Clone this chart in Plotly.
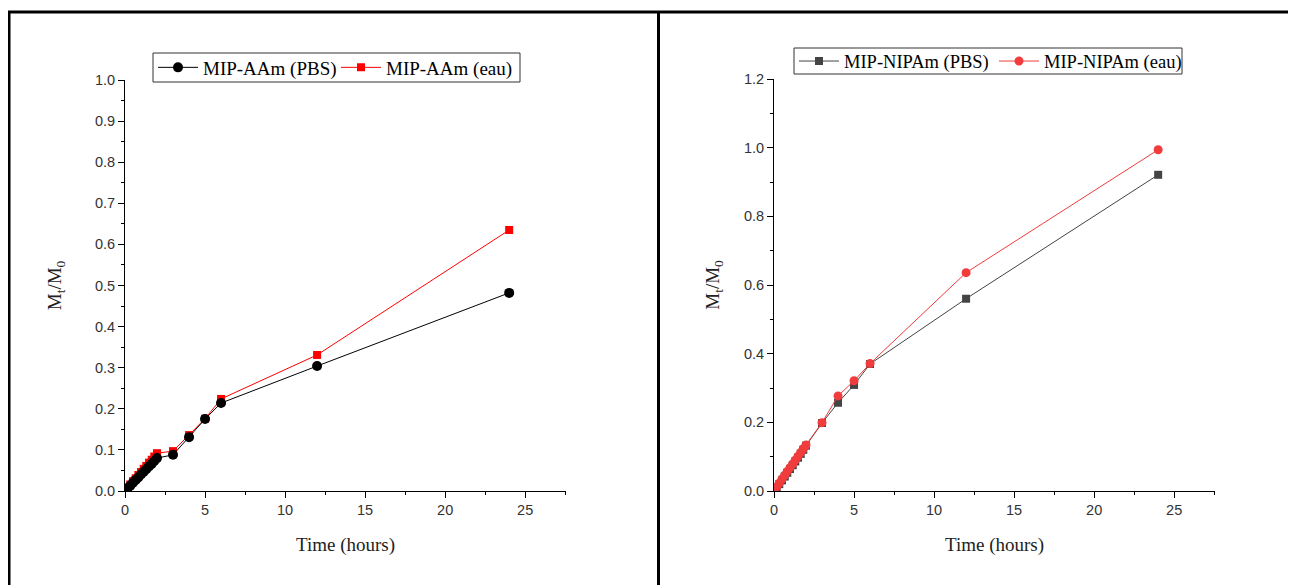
import plotly.graph_objects as go

# page body has an 8px margin: figure occupies screen 8..1296 x 8..585
OFF = 8
W, H = 1296 - OFF, 585 - OFF


def px(x):  # screen x -> paper fraction
    return (x - OFF) / W


def py(y):  # screen y -> paper fraction
    return (H - (y - OFF)) / H


# ---- data ----
time_h = [0.17, 0.33, 0.5, 0.67, 0.83, 1.0, 1.17, 1.33, 1.5, 1.67, 1.83, 2.0, 3, 4, 5, 6, 12, 24]

aam_pbs = [0.007, 0.013, 0.020, 0.027, 0.033, 0.040, 0.047, 0.053, 0.060, 0.066, 0.073, 0.080,
           0.088, 0.131, 0.175, 0.214, 0.304, 0.482]
aam_eau = [0.008, 0.016, 0.024, 0.031, 0.039, 0.046, 0.054, 0.061, 0.069, 0.076, 0.084, 0.092,
           0.097, 0.136, 0.176, 0.224, 0.331, 0.635]

nipam_pbs = [0.010, 0.020, 0.031, 0.042, 0.053, 0.064, 0.075, 0.086, 0.097, 0.108, 0.120, 0.132,
             0.198, 0.257, 0.309, 0.370, 0.560, 0.921]
nipam_eau = [0.012, 0.023, 0.035, 0.046, 0.057, 0.068, 0.079, 0.090, 0.101, 0.112, 0.123, 0.134,
             0.199, 0.277, 0.321, 0.371, 0.636, 0.994]

x_ticks = [0, 5, 10, 15, 20, 25]

fig = go.Figure()

# left panel: water series drawn first so the PBS markers sit on top
fig.add_trace(go.Scatter(x=time_h, y=aam_eau, name="MIP-AAm (eau)", mode="lines+markers",
                         line=dict(color="#ff0000", width=1),
                         marker=dict(symbol="square", size=8, color="#ff0000"),
                         xaxis="x", yaxis="y", legend="legend", legendrank=2))
fig.add_trace(go.Scatter(x=time_h, y=aam_pbs, name="MIP-AAm (PBS)", mode="lines+markers",
                         line=dict(color="black", width=1),
                         marker=dict(symbol="circle", size=10, color="black"),
                         xaxis="x", yaxis="y", legend="legend", legendrank=1))
fig.add_trace(go.Scatter(x=time_h, y=nipam_pbs, name="MIP-NIPAm (PBS)", mode="lines+markers",
                         line=dict(color="#444444", width=1),
                         marker=dict(symbol="square", size=8, color="#444444"),
                         xaxis="x2", yaxis="y2", legend="legend2", legendrank=1))
fig.add_trace(go.Scatter(x=time_h, y=nipam_eau, name="MIP-NIPAm (eau)", mode="lines+markers",
                         line=dict(color="#f03c3c", width=1),
                         marker=dict(symbol="circle", size=9, color="#f03c3c"),
                         xaxis="x2", yaxis="y2", legend="legend2", legendrank=2))

tickfont = dict(family="Liberation Sans, Arial", size=14.5, color="#333333")
titlefont = dict(family="Liberation Serif, Times New Roman", size=19, color="#222222")


def xaxis(domain, anchor):
    return dict(domain=domain, anchor=anchor, range=[0, 27.55], tickvals=x_ticks,
                automargin=False,
                showline=True, linecolor="black", linewidth=1, ticks="outside", ticklen=6,
                tickcolor="black", showgrid=False, zeroline=False, tickfont=tickfont,
                minor=dict(ticks="outside", ticklen=3, dtick=2.5, tickcolor="black", showgrid=False),
                title=dict(text="Time (hours)", font=titlefont, standoff=20))


def yaxis(domain, anchor, rng, dtick, mdtick, standoff):
    return dict(domain=domain, anchor=anchor, range=rng, dtick=dtick, tickformat=".1f",
                automargin=False,
                showline=True, linecolor="black", linewidth=1, ticks="outside", ticklen=6,
                tickcolor="black", showgrid=False, zeroline=False, tickfont=tickfont,
                minor=dict(ticks="outside", ticklen=3, dtick=mdtick, tickcolor="black", showgrid=False),
                title=dict(text="M<sub>t</sub>/M<sub>0</sub>", font=titlefont, standoff=standoff))


legfont_l = dict(family="Liberation Serif, Times New Roman", size=19, color="black")
legfont_r = dict(family="Liberation Serif, Times New Roman", size=18.5, color="black")
fig.update_layout(
    width=W, height=H, margin=dict(l=0, r=0, t=0, b=0, autoexpand=False),
    paper_bgcolor="white", plot_bgcolor="white",
    xaxis=xaxis([px(125), px(566)], "y"),
    yaxis=yaxis([py(491), py(80)], "x", [0, 1.0], 0.1, 0.05, 28),
    xaxis2=xaxis([px(774), px(1215)], "y2"),
    yaxis2=yaxis([py(491), py(79)], "x2", [0, 1.2], 0.2, 0.1, 19),
    legend=dict(x=px(153), y=py(67.5), xanchor="left", yanchor="middle", orientation="h",
                itemwidth=40, entrywidth=128, entrywidthmode="pixels",
                bgcolor="rgba(0,0,0,0)", borderwidth=0, font=legfont_l),
    legend2=dict(x=px(794), y=py(61.5), xanchor="left", yanchor="middle", orientation="h",
                 itemwidth=40, entrywidth=145, entrywidthmode="pixels",
                 bgcolor="rgba(0,0,0,0)", borderwidth=0, font=legfont_r),
    showlegend=True,
)

# legend boxes (tight, as in the reference)
box = dict(color="#333333", width=1)
fig.add_shape(type="rect", xref="paper", yref="paper", x0=px(153), x1=px(520), y0=py(82), y1=py(53),
              line=box, fillcolor="white", layer="above")
fig.add_shape(type="rect", xref="paper", yref="paper", x0=px(794), x1=px(1182), y0=py(74), y1=py(48),
              line=box, fillcolor="white", layer="above")

# frame lines
frame = dict(color="black", width=3)
fig.add_shape(type="line", xref="paper", yref="paper", x0=px(9), x1=px(9), y0=0, y1=py(12), line=frame)
fig.add_shape(type="line", xref="paper", yref="paper", x0=px(7.5), x1=1, y0=py(12), y1=py(12), line=frame)
fig.add_shape(type="line", xref="paper", yref="paper", x0=px(658.5), x1=px(658.5), y0=0, y1=py(12), line=frame)

fig.write_html("out.html")
